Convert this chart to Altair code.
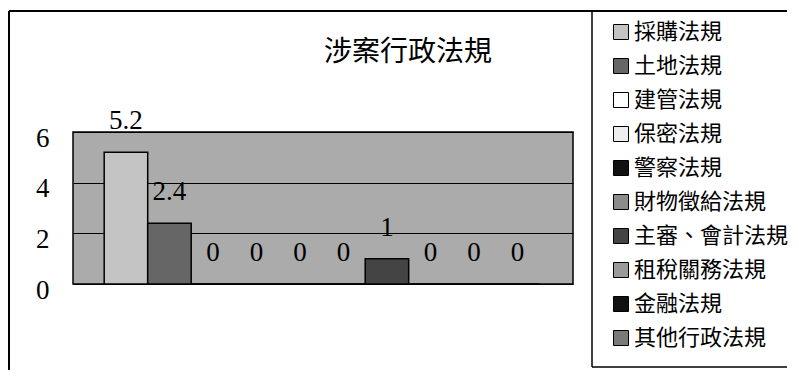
import altair as alt
import pandas as pd

categories = ["採購法規", "土地法規", "建管法規", "保密法規", "警察法規",
              "財物徵給法規", "主審、會計法規", "租稅關務法規", "金融法規", "其他行政法規"]
values = [5.2, 2.4, 0, 0, 0, 0, 1, 0, 0, 0]
colors = ["#c4c4c4", "#666666", "#ffffff", "#eeeeee", "#111111",
          "#8c8c8c", "#444444", "#9a9a9a", "#111111", "#7a7a7a"]
y_ticks = [0, 2, 4, 6]
title_text = "涉案行政法規"

df = pd.DataFrame({"cat": categories, "val": values})

cjk = "Noto Sans CJK TC"
serif = "Liberation Serif"

xenc = alt.X("cat:N", sort=categories,
             scale=alt.Scale(paddingInner=0, paddingOuter=0.747, align=0.48),
             axis=None)
yenc = alt.Y("val:Q", scale=alt.Scale(domain=[0, 6], nice=False),
             axis=alt.Axis(values=y_ticks, title=None, domain=False, ticks=False,
                           grid=True, gridColor="black", gridWidth=1.2, gridOpacity=1,
                           labelFont=serif, labelFontSize=27, labelColor="black",
                           labelPadding=24, labelOffset=6))

bars = alt.Chart(df).mark_bar(stroke="black", strokeWidth=1.5).encode(
    x=xenc,
    y=yenc,
    color=alt.Color("cat:N", scale=alt.Scale(domain=categories, range=colors),
                    legend=alt.Legend(title=None, orient="none", legendX=537, legendY=-111,
                                      symbolType="square", symbolSize=225,
                                      symbolStrokeColor="black", symbolStrokeWidth=1,
                                      symbolOpacity=1,
                                      labelFont=cjk, labelFontSize=22, labelColor="black",
                                      rowPadding=12, labelOffset=2, labelLimit=300)),
)

labels = alt.Chart(df).mark_text(font=serif, fontSize=27, color="black",
                                 baseline="middle", dy=-31).encode(
    x=xenc,
    y=alt.Y("val:Q"),
    text=alt.Text("val:Q"),
)

one = alt.Data(values=[{}])
right_edge = 714
frame_top = alt.Chart(one).mark_rule(color="black", strokeWidth=2).encode(
    x=alt.value(-64), x2=alt.value(right_edge), y=alt.value(-121))
frame_left = alt.Chart(one).mark_rule(color="black", strokeWidth=2).encode(
    x=alt.value(-64), y=alt.value(-121), y2=alt.value(240))
leg_left = alt.Chart(one).mark_rule(color="black", strokeWidth=1.5).encode(
    x=alt.value(519), y=alt.value(-121), y2=alt.value(235))
leg_bottom = alt.Chart(one).mark_rule(color="black", strokeWidth=1.5).encode(
    x=alt.value(519), x2=alt.value(right_edge), y=alt.value(235))

chart = alt.layer(bars, labels, frame_top, frame_left, leg_left, leg_bottom).properties(
    width=500, height=152,
    title=alt.TitleParams(title_text, anchor="middle", frame="group", dx=85,
                          font=cjk, fontSize=28, fontWeight="normal", color="black",
                          baseline="middle", offset=-71),
    autosize=alt.AutoSizeParams(type="none"),
    padding={"left": 65, "top": 124, "right": 216, "bottom": 86},
).configure_view(fill="#ababab", stroke="black", strokeWidth=1.5)

chart.save("out.html", embed_options={"renderer": "svg", "actions": False})
